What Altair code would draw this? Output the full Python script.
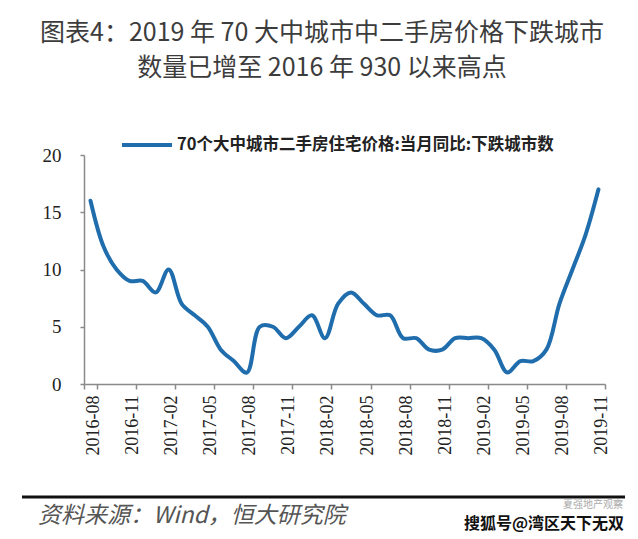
import altair as alt
import pandas as pd

months = [
    "2016-08", "2016-09", "2016-10", "2016-11", "2016-12",
    "2017-01", "2017-02", "2017-03", "2017-04", "2017-05", "2017-06", "2017-07",
    "2017-08", "2017-09", "2017-10", "2017-11", "2017-12",
    "2018-01", "2018-02", "2018-03", "2018-04", "2018-05", "2018-06", "2018-07",
    "2018-08", "2018-09", "2018-10", "2018-11", "2018-12",
    "2019-01", "2019-02", "2019-03", "2019-04", "2019-05", "2019-06", "2019-07",
    "2019-08", "2019-09", "2019-10", "2019-11",
]
falling_cities = [16, 12, 10, 9, 9, 8, 10, 7, 6, 5, 3, 2, 1, 5, 5, 4, 5, 6, 4, 7,
                  8, 7, 6, 6, 4, 4, 3, 3, 4, 4, 4, 3, 1, 2, 2, 3, 7, 10, 13, 17]
tick_labels = months[::3]
y_ticks = [0, 5, 10, 15, 20]
series_name = "70个大中城市二手房住宅价格:当月同比:下跌城市数"
title_lines = ["图表4：2019 年 70 大中城市中二手房价格下跌城市",
               "数量已增至 2016 年 930 以来高点"]
source_text = "资料来源：Wind，恒大研究院"
watermark_main = "搜狐号@湾区天下无双"
watermark_sub = "夏强地产观察"

df = pd.DataFrame({"month": months, "value": falling_cities, "series": series_name})

W, H = 521, 229
CJK = "Noto Sans CJK SC"
SERIF = "Liberation Serif"

line = alt.Chart(df).mark_line(
    interpolate="catmull-rom", strokeWidth=4, strokeCap="round"
).encode(
    x=alt.X("month:O", sort=months, bandPosition=0.5,
            scale=alt.Scale(type="band", paddingInner=0, paddingOuter=0),
            axis=alt.Axis(values=tick_labels, title=None, labelAngle=270,
                          labelFont=SERIF, labelFontSize=18, labelColor="#222",
                          labelPadding=6, labelOffset=3, tickBand="extent", tickSize=5,
                          tickColor="#8a8a8a", domainColor="#8a8a8a",
                          domainWidth=1.5, tickWidth=1.5, grid=False,
                          labelBaseline="middle", labelAlign="right")),
    y=alt.Y("value:Q", scale=alt.Scale(domain=[0, 20], nice=False),
            axis=alt.Axis(values=y_ticks, title=None, grid=False,
                          labelFont=SERIF, labelFontSize=19, labelColor="#222",
                          labelPadding=19, tickSize=4, tickColor="#8a8a8a",
                          domainColor="#8a8a8a", domainWidth=1.5, tickWidth=1.5)),
    color=alt.Color("series:N", scale=alt.Scale(range=["#1f6dac"]),
                    legend=alt.Legend(title=None, orient="none", legendX=36, legendY=-37,
                                      symbolType="stroke", symbolSize=2500,
                                      symbolStrokeWidth=4, labelFont=CJK,
                                      labelFontWeight="bold", labelFontSize=16.5,
                                      labelColor="#222", labelOffset=3, padding=0,
                                      labelLimit=600)),
)

def text_layer(txt, x, y, size, color, align="center", weight="normal",
               style="normal", font=CJK):
    return alt.Chart(pd.DataFrame({"t": [txt]})).mark_text(
        align=align, baseline="middle", fontSize=size, color=color,
        fontWeight=weight, fontStyle=style, font=font,
    ).encode(x=alt.value(x), y=alt.value(y), text="t:N")

title1 = text_layer(title_lines[0], 238, -122, 25, "#3c3c3c")
title2 = text_layer(title_lines[1], 238, -87, 25, "#3c3c3c")

footer_rule = alt.Chart(pd.DataFrame({"a": [0]})).mark_rule(
    color="#111", strokeWidth=3
).encode(x=alt.value(-62), x2=alt.value(541), y=alt.value(342))

src = text_layer(source_text, -46, 361, 23, "#555", align="left", style="italic")
wm_sub = text_layer(watermark_sub, 539, 350, 10, "#aaaaaa", align="right")
wm = text_layer(watermark_main, 540, 369, 16, "#111", align="right", weight="bold")

chart = alt.layer(line, title1, title2, footer_rule, src, wm_sub, wm).properties(
    width=W, height=H,
    autosize=alt.AutoSizeParams(type="none"),
    padding={"left": 76, "top": 147, "right": 25, "bottom": 153},
    background="white",
).configure_view(stroke=None)

chart.save("out.html", embed_options={"renderer": "svg", "actions": False})
